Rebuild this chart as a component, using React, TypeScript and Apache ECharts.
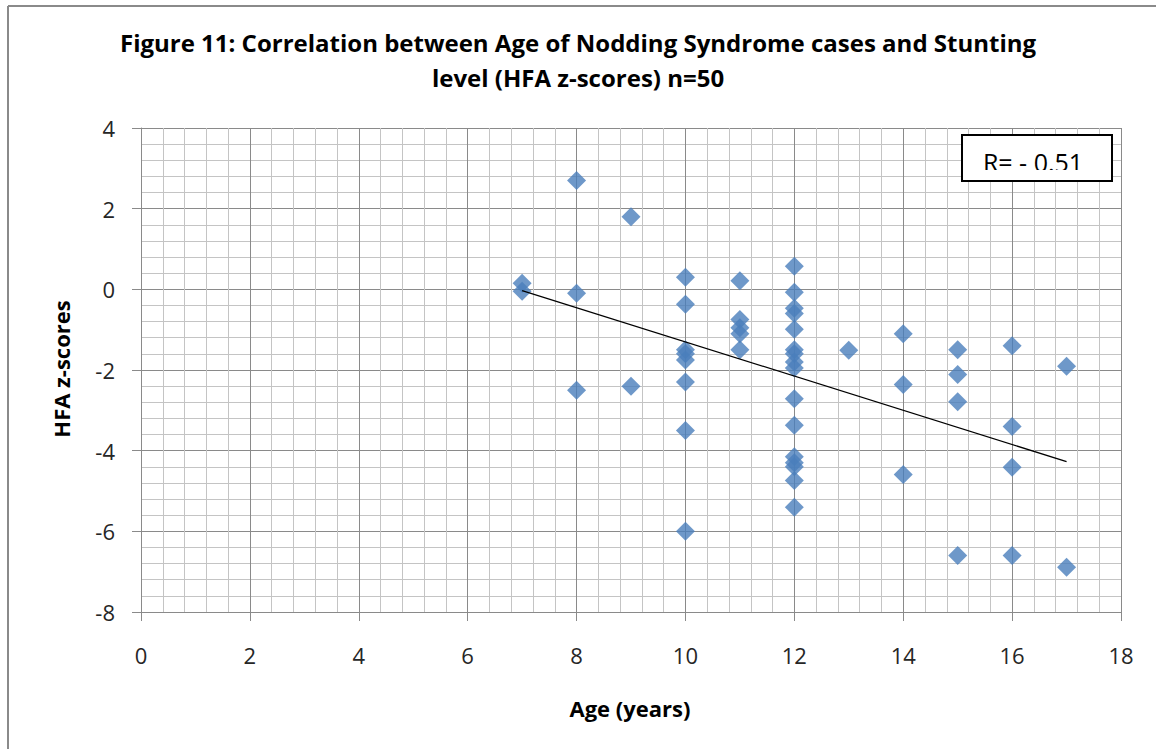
import React, { useEffect, useRef } from "react";
import * as echarts from "echarts";

// Age (years) of each case and its HFA z-score
const ages: number[] = [
  7, 7,
  8, 8, 8,
  9, 9,
  10, 10, 10, 10, 10, 10, 10, 10,
  11, 11, 11, 11, 11,
  12, 12, 12, 12, 12, 12, 12, 12, 12, 12, 12, 12, 12, 12, 12, 12,
  13,
  14, 14, 14,
  15, 15, 15, 15,
  16, 16, 16, 16,
  17, 17,
];
const hfaScores: number[] = [
  0.15, -0.05,
  2.7, -0.1, -2.5,
  1.8, -2.4,
  0.3, -0.37, -1.5, -1.6, -1.75, -2.3, -3.5, -6.0,
  0.21, -0.75, -0.95, -1.1, -1.5,
  0.57, -0.07, -0.47, -0.6, -0.99, -1.5, -1.6, -1.8, -1.95, -2.71, -3.37, -4.15, -4.3, -4.4, -4.74, -5.4,
  -1.51,
  -1.1, -2.36, -4.59,
  -1.5, -2.11, -2.79, -6.6,
  -1.4, -3.4, -4.41, -6.6,
  -1.91, -6.89,
];
const xTicks = { min: 0, max: 18, interval: 2 };
const yTicks = { min: -8, max: 4, interval: 2 };
const titleLines = [
  "Figure 11: Correlation between Age of Nodding Syndrome cases and Stunting",
  "level (HFA z-scores) n=50",
];
const rLabel = "R= - 0.51";
const xName = "Age (years)";
const yName = "HFA z-scores";

const FONT = "'Open Sans', 'DejaVu Sans', sans-serif";

function regression(xs: number[], ys: number[]) {
  const n = xs.length;
  const mx = xs.reduce((a, b) => a + b, 0) / n;
  const my = ys.reduce((a, b) => a + b, 0) / n;
  let sxy = 0;
  let sxx = 0;
  for (let i = 0; i < n; i++) {
    sxy += (xs[i] - mx) * (ys[i] - my);
    sxx += (xs[i] - mx) * (xs[i] - mx);
  }
  const slope = sxy / sxx;
  return { slope, intercept: my - slope * mx };
}

export default function App() {
  const ref = useRef<HTMLDivElement>(null);
  useEffect(() => {
    if (!ref.current) return;
    const chart = echarts.init(ref.current, null, { renderer: "svg" });
    const points = ages.map((a, i) => [a, hfaScores[i]]);
    const { slope, intercept } = regression(ages, hfaScores);
    const xMin = Math.min(...ages);
    const xMax = Math.max(...ages);
    const trend = [
      [xMin, intercept + slope * xMin],
      [xMax, intercept + slope * xMax],
    ];
    const majorColor = "#8a8a8a";
    const minorColor = "#c4c4c4";
    chart.setOption({
      animation: false,
      backgroundColor: "#ffffff",
      grid: { left: 141, right: 35, top: 128, bottom: 137, containLabel: false },
      xAxis: {
        type: "value",
        min: xTicks.min,
        max: xTicks.max,
        interval: xTicks.interval,
        axisLine: { show: true, onZero: false, lineStyle: { color: majorColor, width: 1 } },
        axisTick: { show: true, length: 9, lineStyle: { color: majorColor } },
        axisLabel: { color: "#262626", fontSize: 22, fontFamily: FONT, margin: 32 },
        splitLine: { show: true, lineStyle: { color: majorColor, width: 1 } },
        minorTick: { show: false, splitNumber: 5 },
        minorSplitLine: { show: true, lineStyle: { color: minorColor, width: 1 } },
      },
      yAxis: {
        type: "value",
        min: yTicks.min,
        max: yTicks.max,
        interval: yTicks.interval,
        axisLine: { show: true, onZero: false, lineStyle: { color: majorColor, width: 1 } },
        axisTick: { show: true, length: 9, lineStyle: { color: majorColor } },
        axisLabel: { color: "#262626", fontSize: 22, fontFamily: FONT, margin: 26 },
        splitLine: { show: true, lineStyle: { color: majorColor, width: 1 } },
        minorTick: { show: false, splitNumber: 5 },
        minorSplitLine: { show: true, lineStyle: { color: minorColor, width: 1 } },
      },
      series: [
        {
          type: "scatter",
          data: points,
          symbol: "diamond",
          symbolSize: 19,
          itemStyle: { color: "#4A7EBB" },
          z: 3,
        },
        {
          type: "line",
          data: trend,
          symbol: "none",
          lineStyle: { color: "#000", width: 1.3 },
          z: 4,
        },
      ],
      graphic: [
        { type: "line", shape: { x1: 8, y1: 6, x2: 1156, y2: 6 }, style: { stroke: "#8a8a8a", lineWidth: 2 } },
        { type: "line", shape: { x1: 8, y1: 6, x2: 8, y2: 749 }, style: { stroke: "#8a8a8a", lineWidth: 2 } },
        {
          type: "text",
          x: 578,
          y: 42,
          style: {
            text: titleLines[0],
            font: `bold 24px ${FONT}`,
            fill: "#000",
            textAlign: "center",
            textVerticalAlign: "middle",
          },
        },
        {
          type: "text",
          x: 578,
          y: 77,
          style: {
            text: titleLines[1],
            font: `bold 24px ${FONT}`,
            fill: "#000",
            textAlign: "center",
            textVerticalAlign: "middle",
          },
        },
        {
          type: "text",
          x: 630,
          y: 708,
          style: {
            text: xName,
            font: `bold 22px ${FONT}`,
            fill: "#000",
            textAlign: "center",
            textVerticalAlign: "middle",
          },
        },
        {
          type: "text",
          x: 61,
          y: 369,
          rotation: Math.PI / 2,
          style: {
            text: yName,
            font: `bold 22px ${FONT}`,
            fill: "#000",
            textAlign: "center",
            textVerticalAlign: "middle",
          },
        },
        {
          type: "rect",
          shape: { x: 962, y: 135, width: 150, height: 46 },
          style: { fill: "#fff", stroke: "#000", lineWidth: 2 },
          z: 10,
        },
        {
          type: "text",
          x: 1033,
          y: 162,
          style: {
            text: rLabel,
            font: `25px ${FONT}`,
            fill: "#000",
            textAlign: "center",
            textVerticalAlign: "middle",
          },
          z: 11,
        },
        {
          type: "rect",
          shape: { x: 963, y: 170, width: 148, height: 10 },
          style: { fill: "#fff" },
          z: 12,
        },
      ],
    });
    return () => chart.dispose();
  }, []);
  return (
    <div
      ref={ref}
      style={{ position: "fixed", left: 0, top: 0, width: 1156, height: 749 }}
    />
  );
}
